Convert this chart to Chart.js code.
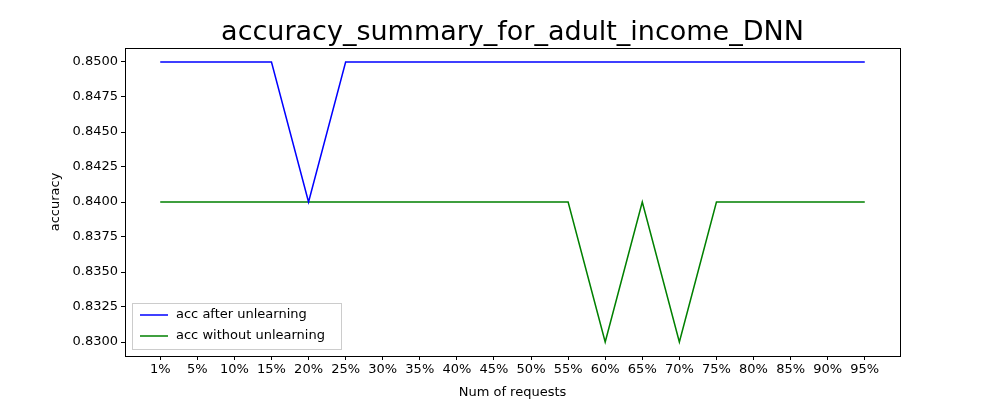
<!DOCTYPE html>
<html>
<head>
<meta charset="utf-8">
<script src="https://cdn.jsdelivr.net/npm/chart.js@4/dist/chart.umd.min.js"></script>
<style>body{margin:0;background:#fff}</style>
</head>
<body>
<div style="width:1000px;height:400px"><canvas id="c" width="1000" height="400"></canvas></div>
<script>
const requests = ["1%","5%","10%","15%","20%","25%","30%","35%","40%","45%","50%","55%","60%","65%","70%","75%","80%","85%","90%","95%"];
const accAfter = [0.85,0.85,0.85,0.85,0.84,0.85,0.85,0.85,0.85,0.85,0.85,0.85,0.85,0.85,0.85,0.85,0.85,0.85,0.85,0.85];
const accWithout = [0.84,0.84,0.84,0.84,0.84,0.84,0.84,0.84,0.84,0.84,0.84,0.84,0.83,0.84,0.83,0.84,0.84,0.84,0.84,0.84];
const yTicks = [0.83,0.8325,0.835,0.8375,0.84,0.8425,0.845,0.8475,0.85];

const font = "'DejaVu Sans', sans-serif";
Chart.defaults.font.family = font;
Chart.defaults.color = "#000";

const frame = {
    id: "frame",
    afterDraw(chart) {
        const a = chart.chartArea, ctx = chart.ctx;
        ctx.save();
        ctx.strokeStyle = "#000";
        ctx.lineWidth = 1;
        ctx.strokeRect(a.left + 0.5, a.top + 0.5, a.right - a.left, a.bottom - a.top);
        // titles
        ctx.fillStyle = "#000";
        ctx.textAlign = "center";
        ctx.textBaseline = "alphabetic";
        ctx.font = "27px " + font;
        ctx.fillText("accuracy_summary_for_adult_income_DNN", (a.left + a.right) / 2, 40);
        ctx.font = "13px " + font;
        ctx.fillText("Num of requests", (a.left + a.right) / 2, 396);
        ctx.save();
        ctx.translate(59, (a.top + a.bottom) / 2);
        ctx.rotate(-Math.PI / 2);
        ctx.fillText("accuracy", 0, 0);
        ctx.restore();
        // legend box inside lower left
        const x = a.left + 7, y = a.bottom - 53, w = 209, h = 46;
        ctx.textAlign = "left";
        ctx.fillStyle = "rgba(255,255,255,0.8)";
        ctx.strokeStyle = "#ccc";
        ctx.fillRect(x, y, w, h);
        ctx.strokeRect(x + 0.5, y + 0.5, w, h);
        ctx.font = "13px " + font;
        ctx.textBaseline = "middle";
        chart.data.datasets.forEach((d, i) => {
            const ly = y + 12 + i * 21;
            ctx.strokeStyle = d.borderColor;
            ctx.lineWidth = 1.5;
            ctx.beginPath(); ctx.moveTo(x + 8, ly); ctx.lineTo(x + 36, ly); ctx.stroke();
            ctx.fillStyle = "#000";
            ctx.fillText(d.label, x + 44, ly);
        });
        ctx.restore();
    }
};

new Chart(document.getElementById("c"), {
    type: "line",
    data: {
        datasets: [
            { label: "acc after unlearning", data: accAfter.map((v, i) => ({x: i, y: v})), borderColor: "blue", borderWidth: 1.5, pointRadius: 0, tension: 0 },
            { label: "acc without unlearning", data: accWithout.map((v, i) => ({x: i, y: v})), borderColor: "green", borderWidth: 1.5, pointRadius: 0, tension: 0 }
        ]
    },
    options: {
        responsive: false,
        animation: false,
        layout: { padding: { right: 100, top: 48 } },
        plugins: {
            legend: { display: false },
            tooltip: { enabled: false },
            title: { display: false }
        },
        scales: {
            x: {
                type: "linear", min: -0.95, max: 19.95,
                afterBuildTicks(s) { s.ticks = requests.map((_, i) => ({ value: i })); },
                afterFit(s) { s.height = 44; },
                ticks: { callback: v => requests[v], maxRotation: 0, autoSkip: false, font: { size: 13 }, padding: 2 },
                grid: { drawOnChartArea: false, color: "#000", tickLength: 4 },
                border: { color: "#000" }
            },
            y: {
                min: 0.829, max: 0.851,
                afterBuildTicks(s) { s.ticks = yTicks.map(v => ({ value: v })); },
                afterFit(s) { s.width = 125; },
                ticks: { callback: v => v.toFixed(4), font: { size: 13 }, padding: 3 },
                grid: { drawOnChartArea: false, color: "#000", tickLength: 4 },
                border: { color: "#000" }
            }
        }
    },
    plugins: [frame]
});
</script>
</body>
</html>
